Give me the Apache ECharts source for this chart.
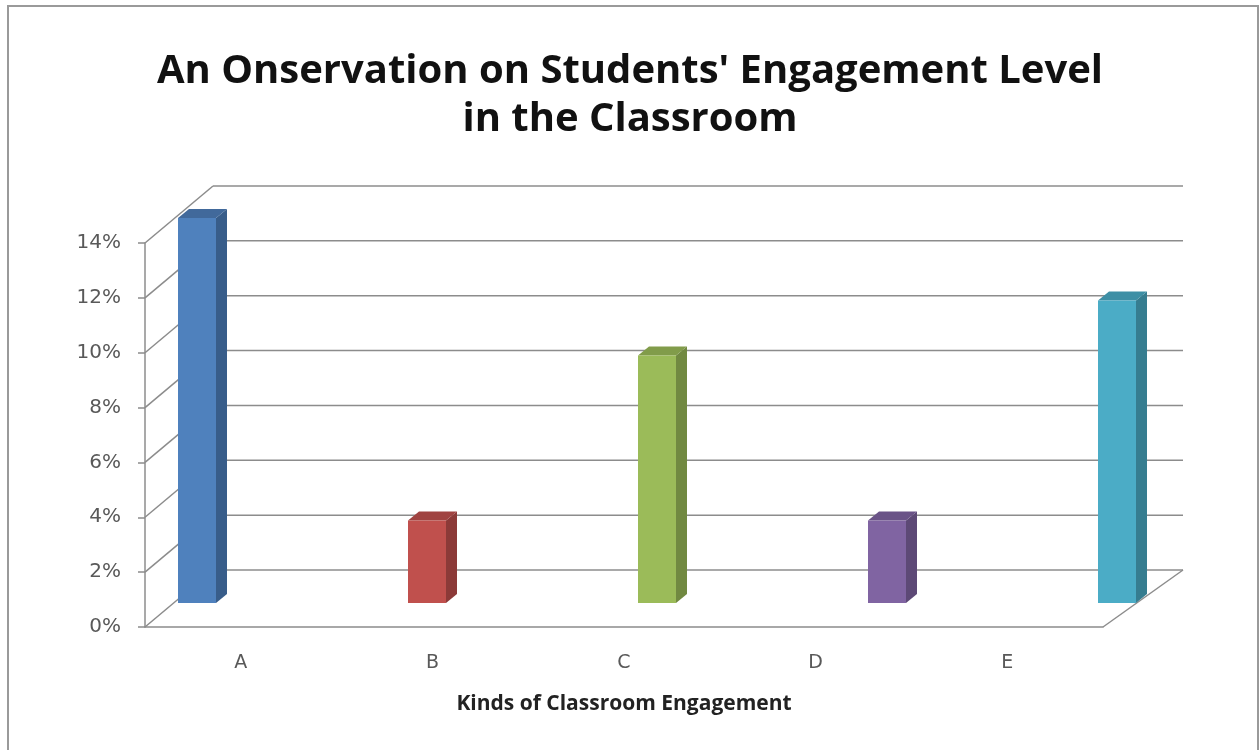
<!DOCTYPE html>
<html>
<head>
<meta charset="utf-8">
<script src="https://cdn.jsdelivr.net/npm/echarts@6/dist/echarts.min.js"></script>
<style>
  html, body { margin: 0; padding: 0; background: #fff; }
  #main { width: 1260px; height: 750px; }
</style>
</head>
<body>
<div id="main"></div>
<script>
// chart data
const categories = ['A', 'B', 'C', 'D', 'E'];
const values = [14, 3, 9, 3, 11];
const yTicks = [0, 2, 4, 6, 8, 10, 12, 14];
const barColors = [
  { front: '#4F81BD', side: '#385D8A', top: '#41699B' },
  { front: '#C0504D', side: '#8C3A38', top: '#A04341' },
  { front: '#9BBB59', side: '#718941', top: '#819C4A' },
  { front: '#8064A2', side: '#5D4976', top: '#6A5387' },
  { front: '#4BACC6', side: '#367D90', top: '#3E8FA5' }
];

const gridColor = '#8c8c8c';
// depth of the 3d box (left side / right side)
const depthL = 68, depthR = 80, depthY = -57;
// depth of one bar
const barW = 38, barDx = 11, barDy = -9;

const chart = echarts.init(document.getElementById('main'));

function renderWalls(params, api) {
  const cs = params.coordSys;
  const v = api.value(1);
  const y = api.coord([0, v])[1];
  const left = cs.x, right = cs.x + cs.width;
  const style = { stroke: gridColor, lineWidth: 1.5 };
  const children = [
    // side wall diagonal
    { type: 'line', shape: { x1: left, y1: y, x2: left + depthL, y2: y + depthY }, style: style },
    // back wall gridline
    { type: 'line', shape: { x1: left + depthL, y1: y + depthY, x2: right + depthR, y2: y + depthY }, style: style }
  ];
  if (v === 0) {
    // floor right edge
    children.push({ type: 'line', shape: { x1: right, y1: y, x2: right + depthR, y2: y + depthY }, style: style });
  }
  return { type: 'group', children: children };
}

function renderBar(params, api) {
  const i = api.value(0);
  const top = api.coord([i, api.value(1)]);
  const base = api.coord([i, 0]);
  const c = barColors[params.dataIndex];
  const x0 = top[0] - barW / 2;
  const x1 = x0 + barW;
  return {
    type: 'group',
    children: [
      {
        type: 'polygon',
        shape: { points: [[x1, top[1]], [x1 + barDx, top[1] + barDy], [x1 + barDx, base[1] + barDy], [x1, base[1]]] },
        style: { fill: c.side }
      },
      {
        type: 'polygon',
        shape: { points: [[x0, top[1]], [x0 + barDx, top[1] + barDy], [x1 + barDx, top[1] + barDy], [x1, top[1]]] },
        style: { fill: c.top }
      },
      {
        type: 'rect',
        shape: { x: x0, y: top[1], width: barW, height: base[1] - top[1] },
        style: { fill: c.front }
      }
    ]
  };
}

const option = {
  backgroundColor: '#ffffff',
  animation: false,
  title: {
    text: "An Onservation on Students' Engagement Level\nin the Classroom",
    left: 'center',
    top: 48,
    padding: 0,
    textStyle: {
      fontFamily: 'Open Sans',
      fontWeight: 'bold',
      fontSize: 40,
      lineHeight: 48,
      color: '#111'
    }
  },
  graphic: [
    {
      type: 'rect',
      shape: { x: 8, y: 6, width: 1250, height: 760 },
      style: { fill: 'none', stroke: '#9a9a9a', lineWidth: 2 },
      silent: true
    }
  ],
  grid: [
    // front plane of the 3d box
    { left: 145, top: 243, width: 958, height: 384 },
    // plane through the bars
    { left: 197, top: 218, width: 920, height: 385 }
  ],
  xAxis: [
    {
      type: 'category',
      gridIndex: 0,
      data: categories,
      axisLine: { show: true, lineStyle: { color: gridColor, width: 1.5 } },
      axisTick: { show: false },
      axisLabel: {
        margin: 27,
        fontSize: 19,
        fontFamily: 'DejaVu Sans',
        color: '#595959'
      },
      name: 'Kinds of Classroom Engagement',
      nameLocation: 'middle',
      nameGap: 67,
      nameTextStyle: {
        fontFamily: 'Open Sans',
        fontWeight: 'bold',
        fontSize: 21,
        color: '#222'
      }
    },
    {
      type: 'category',
      gridIndex: 1,
      data: categories,
      boundaryGap: false,
      show: false
    }
  ],
  yAxis: [
    {
      type: 'value',
      gridIndex: 0,
      min: 0,
      max: 14,
      interval: 2,
      axisLine: { show: true, lineStyle: { color: gridColor, width: 1.5 } },
      axisTick: { show: true, length: 7, lineStyle: { color: gridColor, width: 1.5 } },
      splitLine: { show: false },
      axisLabel: {
        formatter: '{value}%',
        margin: 24,
        fontSize: 20,
        fontFamily: 'DejaVu Sans',
        color: '#595959'
      }
    },
    {
      type: 'value',
      gridIndex: 1,
      min: 0,
      max: 14,
      show: false
    }
  ],
  series: [
    {
      type: 'custom',
      name: 'walls',
      xAxisIndex: 0,
      yAxisIndex: 0,
      silent: true,
      z: 1,
      renderItem: renderWalls,
      data: yTicks.map(v => [0, v])
    },
    {
      type: 'custom',
      name: 'Engagement',
      xAxisIndex: 1,
      yAxisIndex: 1,
      z: 3,
      renderItem: renderBar,
      data: values.map((v, i) => [i, v])
    }
  ]
};

chart.setOption(option);
</script>
</body>
</html>
